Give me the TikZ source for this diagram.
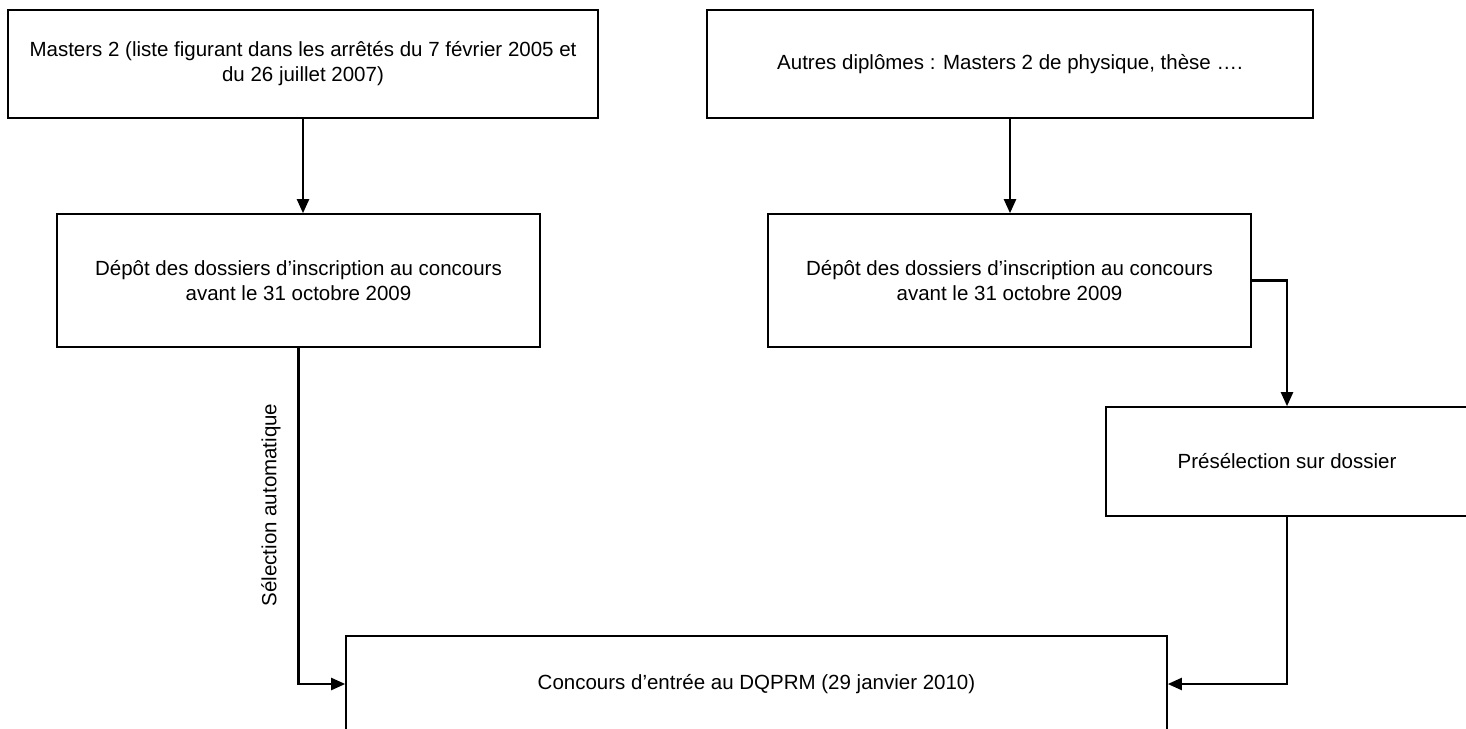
\documentclass[tikz,border=0pt]{standalone}
\usepackage{fontspec}
\setmainfont{Liberation Sans}
\usetikzlibrary{arrows.meta}
\begin{document}
\begin{tikzpicture}[x=1pt,y=-1pt,
  box/.style={draw,line width=1.6pt,inner sep=0pt,align=center,font=\fontsize{20.5}{25}\selectfont},
  arr/.style={line width=2.2pt,-{Triangle[length=14pt,width=12pt]}},
  lbl/.style={font=\fontsize{20.5}{25}\selectfont}]
\useasboundingbox (0,0) rectangle (1466,728);
\node[box,minimum width=590pt,minimum height=108pt] (b1) at (303,64) {Masters 2 (liste figurant dans les arrêtés du 7 février 2005 et\\du 26 juillet 2007)};
\node[box,minimum width=606pt,minimum height=108pt] (b2) at (1010,64) {Autres diplômes : Masters 2 de physique, thèse ….};
\node[box,minimum width=483pt,minimum height=133pt] (b3) at (298.5,280.5) {Dépôt des dossiers d’inscription au concours\\avant le 31 octobre 2009};
\node[box,minimum width=483pt,minimum height=133pt] (b4) at (1009.5,280.5) {Dépôt des dossiers d’inscription au concours\\avant le 31 octobre 2009};
\node[box,minimum width=362pt,minimum height=109pt] (b5) at (1287,461.5) {Présélection sur dossier};
\node[box,minimum width=821pt,minimum height=96pt] (b6) at (756.5,684) {Concours d’entrée au DQPRM (29 janvier 2010)};
\draw[arr] (b1.south) -- (b1.south |- b3.north);
\draw[arr] (b2.south) -- (b2.south |- b4.north);
\draw[arr] (b3.south) |- (b6.west);
\draw[arr] (b4.east) -| (b5.north);
\draw[arr] (b5.south) |- (b6.east);
\node[lbl,rotate=90] (l1) at (271,505) {Sélection automatique};
\end{tikzpicture}
\end{document}
